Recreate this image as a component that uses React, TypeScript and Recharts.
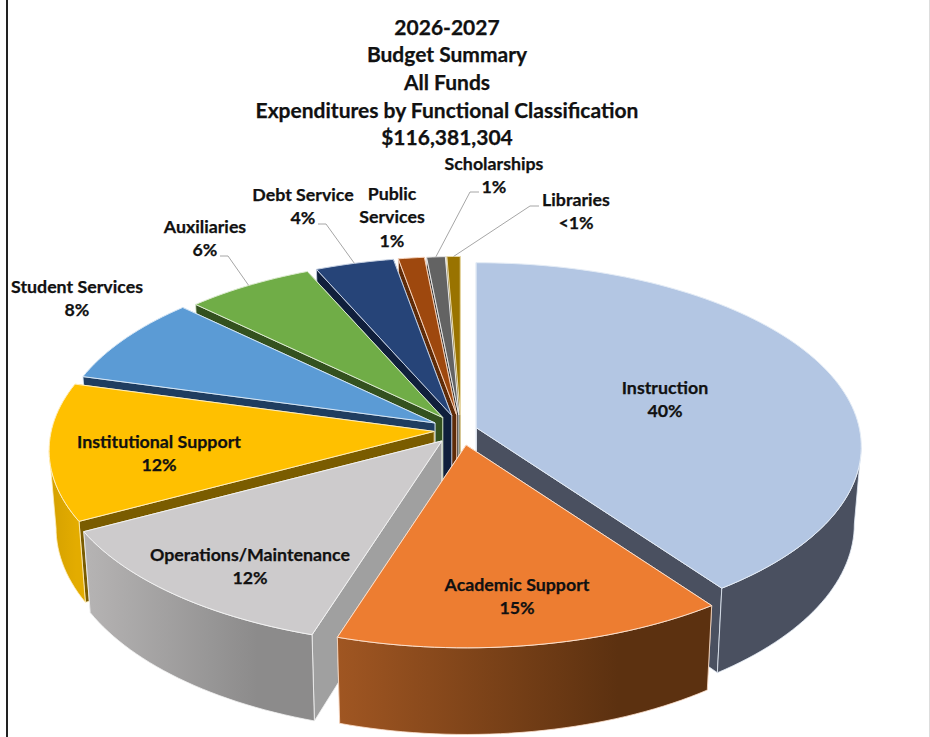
import React from "react";
import { PieChart, Pie } from "recharts";

// Draw order goes counter-clockwise from Instruction so nearer slices paint last.
const categories = ["Instruction", "Libraries", "Scholarships", "Public Services", "Debt Service", "Auxiliaries", "Student Services", "Institutional Support", "Operations/Maintenance", "Academic Support"];
const shares = [40, 0.64, 0.9, 1.25, 3.8, 6.2, 7.9, 12.1, 12.3, 14.9];
const shareLabels = ["40%", "<1%", "1%", "1%", "4%", "6%", "8%", "12%", "12%", "15%"];
const titleLines = ["2026-2027", "Budget Summary", "All Funds", "Expenditures by Functional Classification", "$116,381,304"];

const topColors = ["#B3C6E3", "#997300", "#636363", "#9E480E", "#264478", "#70AD47", "#5B9BD5", "#FFC000", "#CDCBCC", "#ED7D31"];
const wallColors = ["#4A5060", "#5c4500", "#3b3b3b", "#5f2b08", "#101f3c", "#34511f", "#1f3d60", "#7A5C00", "#A0A0A0", "#5E3212"];
const sideLeft = ["#4A5060", "#5c4500", "#3b3b3b", "#5f2b08", "#101f3c", "#34511f", "#1f3d60", "#D4A000", "#B6B4B4", "#A05622"];
const sideRight = ["#4A5060", "#5c4500", "#3b3b3b", "#5f2b08", "#101f3c", "#34511f", "#1f3d60", "#E3AC00", "#8C8B8B", "#5C3110"];
const edgeColors = ["#E4ECF6", "#E8D9A8", "#E8E8E8", "#F4D2BC", "#C5D0E2", "#DCEBD0", "#D5E6F5", "#FFEEBB", "#F2F2F2", "#FCE0CC"];
const explodeBy = [16, 32, 32, 32, 32, 32, 30, 27, 30, 32];
const reachBy = [1, 0.96, 0.96, 0.96, 0.96, 0.96, 0.98, 1, 1.008, 1];

const labelCenters = [[665, 387], [576, 199], [494, 163], [392, 193], [303, 194], [205, 226], [77, 286], [159, 441], [250, 554], [517, 584]];
const wrappedNames = [null, null, null, ["Public", "Services"], null, null, null, null, null, null];
const leaderElbows = [null, [539, 206, 530], [479, 192, 470], null, [318, 224, 326], [220, 256, 228], null, null, null, null];

const FONT = "Lato, 'Open Sans', sans-serif";
const W = 930;
const H = 737;
const TILT = 0.475;
const PERSPECTIVE = 0.103;
const DROP = 76.5 / 383;
const BOTTOM_X = 0.982;
const BOTTOM_Y = 1.05;

const rows = categories.map((name, i) => ({
  name,
  value: shares[i],
  share: shareLabels[i],
  fill: topColors[i],
  wall: wallColors[i],
  left: sideLeft[i],
  right: sideRight[i],
  edge: edgeColors[i],
  explode: explodeBy[i],
  reach: reachBy[i],
}));

const rad = (d: number) => (d * Math.PI) / 180;

function rim(theta: number, r: number) {
  const X = Math.sin(rad(theta));
  const Y = Math.cos(rad(theta));
  const den = 1 + PERSPECTIVE * Y;
  return { x: (r * X) / den, y: (-r * TILT * Y) / den };
}

function apexOf(cx: number, cy: number, mid: number, explode: number) {
  return {
    x: cx + explode * Math.sin(rad(mid)),
    y: cy - explode * TILT * Math.cos(rad(mid)),
  };
}

function path(points: { x: number; y: number }[]) {
  return points.map((p, i) => `${i ? "L" : "M"}${p.x.toFixed(2)} ${p.y.toFixed(2)}`).join(" ") + " Z";
}

function SliceShape(props: any) {
  const { cx, cy, outerRadius, startAngle, endAngle } = props;
  const row = props.payload ?? props;
  const r = outerRadius * row.reach;
  let lo = 90 - endAngle;
  let hi = 90 - startAngle;
  if (lo + hi < 0) {
    lo += 360;
    hi += 360;
  }
  const mid = (lo + hi) / 2;
  const apex = apexOf(cx, cy, mid, row.explode);
  const drop = DROP * outerRadius;
  const top = (t: number) => {
    const p = rim(t, r);
    return { x: apex.x + p.x, y: apex.y + p.y };
  };
  const bottom = (t: number) => {
    const p = rim(t, r);
    return { x: apex.x + p.x * BOTTOM_X, y: apex.y + p.y * BOTTOM_Y + drop };
  };
  const apexLow = { x: apex.x, y: apex.y + drop };
  const sweep = (a: number, b: number) => {
    const n = Math.max(2, Math.ceil(Math.abs(b - a) / 1.5));
    return Array.from({ length: n + 1 }, (_, i) => a + ((b - a) * i) / n);
  };
  const limit = (Math.acos(-PERSPECTIVE) * 180) / Math.PI;
  const sideLo = Math.max(lo, limit);
  const sideHi = Math.min(hi, 360 - limit);
  const gid = `side-${row.name.replace(/[^A-Za-z]/g, "")}`;
  const topFace = [apex, ...sweep(lo, hi).map(top)];
  return (
    <g>
      <defs>
        <linearGradient id={gid} x1="0" y1="0" x2="1" y2="0">
          <stop offset="0" stopColor={row.left} />
          <stop offset="0.75" stopColor={row.right} />
          <stop offset="1" stopColor={row.right} />
        </linearGradient>
      </defs>
      {[hi, lo].map((t, i) => (
        <path key={i} d={path([apex, top(t), bottom(t), apexLow])} fill={row.wall} stroke={row.edge} strokeWidth={0.8} strokeLinejoin="round" />
      ))}
      {sideLo < sideHi && (
        <path
          d={path([...sweep(sideLo, sideHi).map(top), ...sweep(sideHi, sideLo).map(bottom)])}
          fill={`url(#${gid})`}
          stroke={row.edge}
          strokeWidth={0.8}
          strokeLinejoin="round"
        />
      )}
      <path d={path(topFace)} fill={row.fill} stroke={row.edge} strokeWidth={1} strokeLinejoin="round" />
    </g>
  );
}

function SliceLabel(props: any) {
  const { index, cx, cy, outerRadius, midAngle } = props;
  const [x, y] = labelCenters[index];
  const lines = [...(wrappedNames[index] ?? [categories[index]]), shareLabels[index]];
  const elbow = leaderElbows[index];
  let leader = null;
  if (elbow) {
    let mid = 90 - midAngle;
    if (mid < 0) mid += 360;
    const apex = apexOf(cx, cy, mid, explodeBy[index]);
    const p = rim(mid, outerRadius * reachBy[index]);
    leader = (
      <polyline
        points={`${elbow[0]},${elbow[1]} ${elbow[2]},${elbow[1]} ${apex.x + p.x},${apex.y + p.y}`}
        fill="none"
        stroke="#A6A6A6"
        strokeWidth={1}
      />
    );
  }
  return (
    <g>
      {leader}
      {lines.map((line: string, i: number) => (
        <text
          key={i}
          x={x}
          y={y + i * 23.4}
          textAnchor="middle"
          dominantBaseline="central"
          fontFamily={FONT}
          fontWeight={700}
          fontSize={17.8}
          fill="#111"
          stroke="#111"
          strokeWidth={0.25}
        >
          {line}
        </text>
      ))}
    </g>
  );
}

export default function App() {
  return (
    <div style={{ position: "absolute", left: 0, top: 0, width: W, height: H, overflow: "hidden", background: "#fff" }}>
      <div style={{ position: "absolute", left: 6, top: 0, width: 1.5, height: H, background: "#222" }} />
      <div style={{ position: "absolute", left: 929, top: 0, width: 1, height: H, background: "#ddd" }} />
      <PieChart width={W} height={H} margin={{ top: 0, right: 0, bottom: 0, left: 0 }} style={{ position: "absolute", left: 0, top: 0 }}>
        {titleLines.map((line, i) => (
          <text
            key={line}
            x={447}
            y={26 + i * 27.7}
            textAnchor="middle"
            dominantBaseline="central"
            fontFamily={FONT}
            fontWeight={700}
            fontSize={21}
            fill="#111"
            stroke="#111"
            strokeWidth={0.25}
          >
            {line}
          </text>
        ))}
        <Pie
          data={rows}
          dataKey="value"
          nameKey="name"
          cx={461}
          cy={430}
          innerRadius={0}
          outerRadius={383}
          startAngle={-54}
          endAngle={306}
          stroke="none"
          isAnimationActive={false}
          shape={SliceShape}
          label={SliceLabel}
          labelLine={false}
        />
      </PieChart>
    </div>
  );
}
